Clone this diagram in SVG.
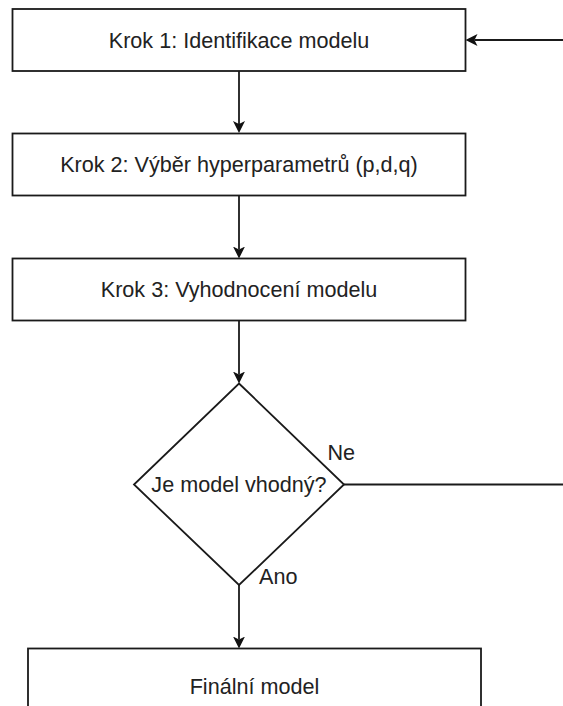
<svg xmlns="http://www.w3.org/2000/svg" width="563" height="706" viewBox="0 0 563 706">
  <style>
    .box { fill: #ffffff; stroke: #1a1a1a; stroke-width: 1.8; }
    .label { font-family: "Liberation Sans", Arial, Helvetica, sans-serif; font-size: 21.6px; fill: #222222; text-anchor: middle; }
    .edge-label { font-family: "Liberation Sans", Arial, Helvetica, sans-serif; font-size: 21.6px; fill: #222222; }
    .edge { fill: none; stroke: #1a1a1a; stroke-width: 1.8; }
  </style>
  <defs>
    <!-- classic filled arrowhead; reference point sits in the notch so the tip lands on the target -->
    <marker id="arrow" viewBox="0 0 12 12" refX="3" refY="6" markerWidth="12" markerHeight="12" markerUnits="userSpaceOnUse" orient="auto">
      <path d="M0,0 L12,6 L0,12 L3,6 Z" fill="#111111"/>
    </marker>
  </defs>

  <rect width="563" height="706" fill="#ffffff"/>

  <g id="step1">
    <rect class="box" x="12.5" y="9" width="453" height="62"/>
    <text class="label" x="239" y="47.5">Krok 1: Identifikace modelu</text>
  </g>

  <g id="step2">
    <rect class="box" x="12.5" y="133.5" width="453" height="62"/>
    <text class="label" x="239" y="172">Krok 2: Výběr hyperparametrů (p,d,q)</text>
  </g>

  <g id="step3">
    <rect class="box" x="12.5" y="258.5" width="453" height="62"/>
    <text class="label" x="239" y="297">Krok 3: Vyhodnocení modelu</text>
  </g>

  <g id="decision">
    <path class="box" d="M239,383.5 L344,484.5 L239,585 L134,484.5 Z"/>
    <text class="label" x="239" y="492">Je model vhodný?</text>
  </g>

  <g id="final">
    <rect class="box" x="28" y="648.5" width="453" height="80"/>
    <text class="label" x="254.5" y="693.5">Finální model</text>
  </g>

  <g id="connectors">
    <path class="edge" d="M239,71 L239,124" marker-end="url(#arrow)"/>
    <path class="edge" d="M239,195.5 L239,249.5" marker-end="url(#arrow)"/>
    <path class="edge" d="M239,320.5 L239,374.5" marker-end="url(#arrow)"/>
    <path class="edge" d="M239,585 L239,639.5" marker-end="url(#arrow)"/>
    <!-- "Ne" branch leaves to the right and loops back into step 1 -->
    <path class="edge" d="M344,484.5 L565,484.5"/>
    <path class="edge" d="M565,40 L474.5,40" marker-end="url(#arrow)"/>
    <text class="edge-label" x="327.5" y="459.5">Ne</text>
    <text class="edge-label" x="259" y="583.5">Ano</text>
  </g>
</svg>
